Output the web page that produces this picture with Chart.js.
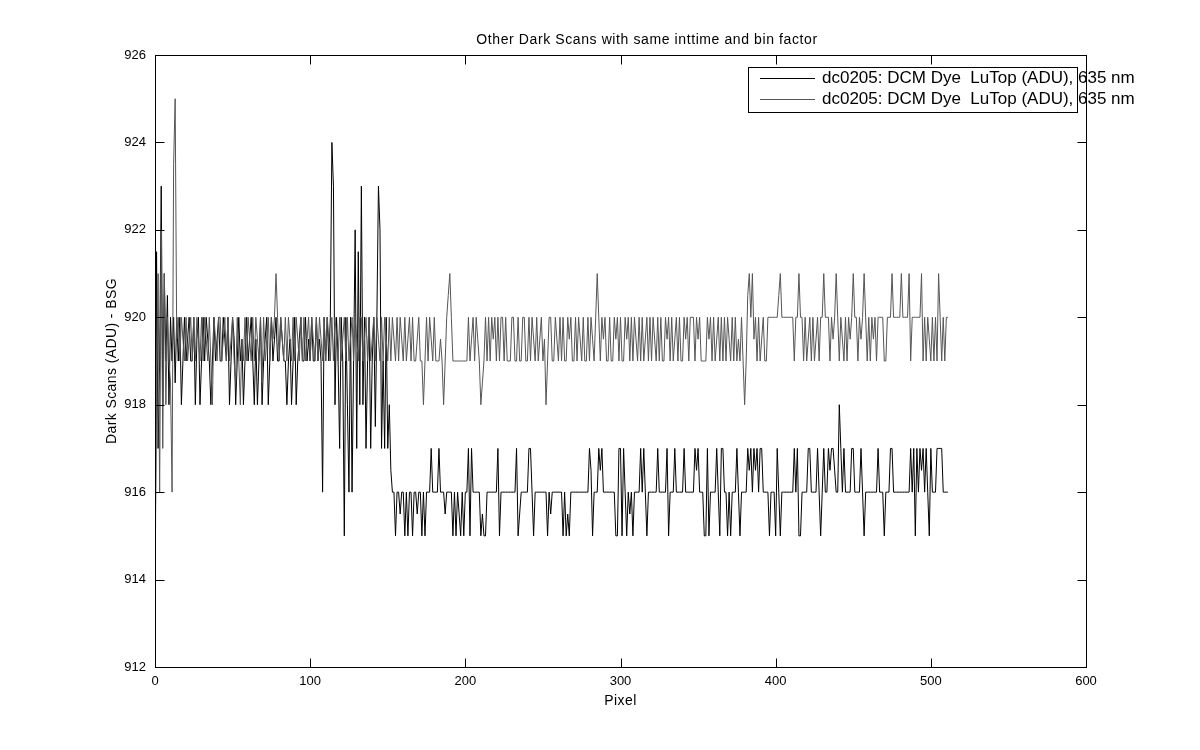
<!DOCTYPE html>
<html>
<head>
<meta charset="utf-8">
<title>Other Dark Scans</title>
<script src="https://cdn.jsdelivr.net/npm/chart.js@4.4.0/dist/chart.umd.min.js"></script>
<style>
    body { margin: 0; background: #fff; }
    canvas { display: block; }
</style>
</head>
<body>
<canvas id="darkChart" width="1200" height="750"></canvas>
<script>
// Data (ADU per pixel, 512 pixels)
const seriesLabel = 'dc0205: DCM Dye  LuTop (ADU), 635 nm';

const scanA = [
    912, 921.5, 917, 919, 923, 918, 921, 919, 920.5, 918, 920, 919, 920, 918.5, 920, 919,
    920, 918, 919, 920, 919, 919.5, 920, 919, 919, 920, 918, 919.5, 920, 918, 919, 920,
    919, 920, 919.5, 919, 918, 919, 920, 919, 919.5, 920, 919, 919, 920, 919.5, 919, 920,
    918, 919, 920, 919.5, 918, 919, 920, 919, 919.5, 918, 919, 920, 919, 919.5, 920, 919,
    918, 919.5, 918, 919, 920, 918, 919, 919.5, 920, 918, 919, 920, 919, 919.5, 920, 919,
    919, 920, 919.5, 919, 919, 918, 919, 919.5, 918, 919, 920, 918, 919, 919.5, 920, 919,
    919, 920, 919, 919.5, 919, 920, 919, 919, 920, 919, 919.5, 919, 916, 920, 919, 920,
    919, 920, 924, 923, 918, 920, 919, 917, 920, 919, 915, 920, 918, 916, 920, 916,
    919, 922, 917, 921.5, 918, 923, 918, 920, 917, 919, 920, 917, 919, 920, 917.5, 920,
    923, 922, 917, 919, 917, 920, 917, 918, 916.5, 916, 916, 915, 916, 916, 915.5, 916,
    916, 915, 916, 915, 916, 916, 915, 916, 916, 915.5, 916, 916, 915, 916, 915, 916,
    916, 916, 917, 916, 916, 916, 916, 917, 916, 916, 916, 915.5, 916, 916, 916, 916,
    915, 916, 915, 916, 915.5, 915, 916, 915, 916, 916, 917, 915, 917, 916, 916, 916,
    916, 916, 915, 915.5, 915, 915, 916, 916, 916, 916, 916, 916, 916, 917, 915, 916,
    916, 916, 916, 916, 916, 916, 916, 916, 916, 917, 915, 915.5, 916, 916, 916, 916,
    916, 917, 917, 916, 915, 916, 916, 916, 916, 916, 916, 916, 916, 915, 916, 915.5,
    916, 916, 916, 916, 916, 916, 916, 915, 916, 915, 915.5, 915, 916, 916, 916, 916,
    916, 916, 916, 916, 916, 916, 916, 916, 917, 916.5, 915, 916, 916, 916, 917, 916.5,
    917, 916, 916, 916, 916, 916, 916, 916, 916, 915, 915, 917, 917, 915, 917, 916,
    915, 916, 915.5, 916, 915, 916, 916, 916, 916, 917, 916, 917, 916, 915, 916, 916,
    916, 916, 916, 916, 917, 916, 916, 916, 916, 916, 917, 915, 916, 916, 916, 917,
    916, 916, 916, 916, 916, 917, 916, 916, 916, 916, 916, 916, 917, 916.5, 917, 916,
    916, 916, 915, 915, 917, 915, 916, 916, 916, 916, 917, 916, 915, 917, 917, 916,
    916, 915, 916, 915, 916, 916, 916, 917, 916, 915, 916, 916, 916, 916, 917, 916.5,
    917, 916, 917, 916.5, 917, 916, 917, 917, 916, 916, 916, 916, 915, 916, 916, 916,
    915, 917, 916, 915, 916, 916, 916, 916, 916, 916, 916, 916, 917, 916, 917, 915,
    915, 916, 916, 916, 916, 917, 917, 916, 916, 916, 916, 917, 916, 915, 916, 917,
    916, 916, 917, 916.5, 917, 917, 916.5, 916, 916, 918, 917, 916, 917, 916, 916, 916,
    916, 917, 917, 916, 916, 916, 916, 917, 916, 915, 916, 916, 916, 916, 916, 916,
    916, 916, 917, 916, 916, 916, 915, 916, 916, 916, 917, 917, 916, 916, 916, 916,
    916, 916, 916, 916, 916, 916, 916, 917, 916, 917, 915, 917, 916, 917, 916.5, 917,
    916, 917, 916, 915, 917, 916, 916, 916, 917, 917, 917, 917, 916, 916, 916, 916
];

const scanB = [
    914.5, 918, 921, 916, 922, 917, 921, 918, 920, 919, 918.5, 916, 923.5, 925, 919.5, 920,
    919, 920, 919.5, 919, 920, 919, 919.5, 920, 919, 920, 919, 920, 919.5, 919, 920, 919,
    920, 919.5, 919, 920, 919, 918, 920, 919.5, 919, 920, 920, 919, 919.5, 920, 919, 920,
    919, 919.5, 920, 919, 918.5, 920, 919, 918, 919.5, 919, 920, 919, 920, 919.5, 919, 920,
    919, 920, 919.5, 919, 920, 918.5, 920, 919, 919.5, 920, 919, 920, 919.5, 920, 921, 920,
    919, 920, 919.5, 919, 920, 919, 920, 919.5, 919, 920, 919, 920, 919.5, 919, 920, 919,
    920, 919, 919.5, 920, 919, 920, 919.5, 919, 920, 919, 920, 919.5, 919, 920, 919, 920,
    919.5, 919, 920, 919, 920, 919.5, 919, 920, 919, 919.5, 920, 919, 920, 919, 919.5, 920,
    919, 920, 919.5, 919, 920, 920, 919, 919.5, 920, 919, 920, 919, 919.5, 920, 919, 920,
    919.5, 919, 920, 919, 920, 919.5, 919, 920, 919, 920, 919.5, 919, 920, 919, 920, 919.5,
    919, 920, 919, 919.5, 920, 919, 920, 919, 919, 919.5, 920, 919, 919, 918, 919, 920,
    919, 920, 919.5, 919, 920, 919, 919, 919, 919.5, 919, 918, 919, 920, 920.5, 921, 920,
    919, 919, 919, 919, 919, 919, 919, 919, 919, 919, 920, 919, 919.5, 920, 919, 920,
    919.5, 919, 918, 918.5, 919, 920, 919, 920, 919, 920, 919.5, 920, 919, 920, 919, 920,
    920, 919, 920, 919, 919, 919, 920, 920, 919, 919, 920, 919, 919, 920, 920, 919,
    919, 920, 919, 920, 919.5, 919, 920, 919, 919.5, 920, 919, 919.5, 918, 919, 920, 920,
    919, 919, 920, 919.5, 919, 920, 919, 920, 919, 919, 920, 919.5, 920, 919, 919, 920,
    919, 920, 919.5, 919, 920, 919, 919, 920, 919, 920, 919.5, 919, 920, 921, 920, 919,
    920, 919.5, 920, 919, 919, 920, 919, 919, 920, 919.5, 920, 919, 920, 919, 919, 920,
    919.5, 920, 919, 920, 919, 920, 919.5, 919, 920, 919, 920, 919, 919.5, 920, 919, 920,
    919, 920, 919.5, 919, 920, 919, 920, 919, 919, 920, 919.5, 920, 919, 920, 919, 919.5,
    920, 919, 920, 919, 919, 920, 919.5, 920, 919, 920, 920, 920, 919, 920, 919.5, 920,
    919, 919, 919, 919, 920, 919.5, 920, 919, 920, 919, 919.5, 920, 919, 920, 919, 920,
    919, 920, 919.5, 919, 920, 919, 920, 919, 919.5, 919, 920, 919, 918, 919, 920.5, 921,
    920, 921, 919.5, 920, 919, 920, 919, 919.5, 920, 919, 919, 920, 920, 920, 920, 920,
    920, 920, 920.5, 921, 920, 920, 920, 920, 920, 920, 920, 920, 919, 920, 920, 921,
    920, 920, 919, 920, 919, 919.5, 920, 919, 920, 919, 919.5, 920, 919, 920, 920, 921,
    920, 920, 920, 919, 920, 919.5, 920, 921, 920, 919, 920, 919.5, 919, 920, 919, 920,
    919.5, 920, 921, 920, 920, 919, 920, 919.5, 920, 921, 920, 919, 920, 919, 920, 919.5,
    920, 919, 920, 920, 920, 920, 919, 919, 920, 920, 920, 921, 920, 920, 920, 920,
    920, 921, 920, 920, 920, 920, 921, 919, 920, 920, 920, 920, 920, 920, 921, 919,
    920, 919, 920, 919.5, 919, 920, 919, 920, 919, 921, 920, 919, 920, 919, 920, 920
];

const xTicks = [0, 100, 200, 300, 400, 500, 600];
const yTicks = [912, 914, 916, 918, 920, 922, 924, 926];

const chartTitle = 'Other Dark Scans with same inttime and bin factor';
const xTitle = 'Pixel';
const yTitle = 'Dark Scans (ADU) - BSG';

const FONT = '"Liberation Sans", Arial, Helvetica, sans-serif';
const TICK_LEN = 9;

function toPoints(values) {
    return values.map((v, i) => ({ x: i, y: v }));
}

// MATLAB-ish box, inward ticks, titles and legend
const matlabAxes = {
    id: 'matlabAxes',
    afterDraw(chart) {
        const ctx = chart.ctx;
        const area = chart.chartArea;
        const xs = chart.scales.x;
        const ys = chart.scales.y;
        const l = Math.round(area.left) + 0.5;
        const r = Math.round(area.right) + 0.5;
        const t = Math.round(area.top) + 0.5;
        const b = Math.round(area.bottom) + 0.5;

        ctx.save();
        ctx.strokeStyle = '#000';
        ctx.lineWidth = 1;
        ctx.strokeRect(l, t, r - l, b - t);

        ctx.beginPath();
        xTicks.forEach(v => {
            const px = Math.round(xs.getPixelForValue(v)) + 0.5;
            ctx.moveTo(px, b); ctx.lineTo(px, b - TICK_LEN);
            ctx.moveTo(px, t); ctx.lineTo(px, t + TICK_LEN);
        });
        yTicks.forEach(v => {
            const py = Math.round(ys.getPixelForValue(v)) + 0.5;
            ctx.moveTo(l, py); ctx.lineTo(l + TICK_LEN, py);
            ctx.moveTo(r, py); ctx.lineTo(r - TICK_LEN, py);
        });
        ctx.stroke();

        // titles
        ctx.fillStyle = '#000';
        ctx.font = '14px ' + FONT;
        ctx.letterSpacing = '0.6px';
        ctx.textAlign = 'center';
        ctx.textBaseline = 'middle';
        const cx = (area.left + area.right) / 2;
        ctx.fillText(chartTitle, 647, 40);
        ctx.letterSpacing = '0.4px';
        ctx.fillText(xTitle, cx, 701);
        ctx.save();
        ctx.translate(112, (area.top + area.bottom) / 2);
        ctx.rotate(-Math.PI / 2);
        ctx.fillText(yTitle, 0, 0);
        ctx.restore();

        // legend (text runs past the box, as in the original)
        const box = { x: 748.5, y: 67.5, w: 329, h: 45 };
        ctx.fillStyle = '#fff';
        ctx.fillRect(box.x, box.y, box.w, box.h);
        ctx.textAlign = 'left';
        ctx.letterSpacing = '0px';
        ctx.font = '17px ' + FONT;
        chart.data.datasets.forEach((ds, i) => {
            const y = Math.round(78 + i * 21) + 0.5;
            ctx.strokeStyle = ds.borderColor;
            ctx.beginPath();
            ctx.moveTo(760, y);
            ctx.lineTo(815, y);
            ctx.stroke();
            ctx.fillStyle = '#000';
            ctx.fillText(ds.label, 822, y);
        });
        ctx.strokeStyle = '#000';
        ctx.strokeRect(box.x, box.y, box.w, box.h);
        ctx.restore();
    }
};

const ctx = document.getElementById('darkChart').getContext('2d');

const darkChart = new Chart(ctx, {
    type: 'line',
    data: {
        datasets: [
            {
                label: seriesLabel,
                data: toPoints(scanA),
                borderColor: '#000000',
                borderWidth: 1,
                pointRadius: 0,
                tension: 0,
                order: 2
            },
            {
                label: seriesLabel,
                data: toPoints(scanB),
                borderColor: '#555555',
                borderWidth: 1,
                pointRadius: 0,
                tension: 0,
                order: 1
            }
        ]
    },
    options: {
        responsive: false,
        animation: false,
        devicePixelRatio: 1,
        layout: {
            padding: { left: 0, right: 114, top: 55, bottom: 0 }
        },
        scales: {
            x: {
                type: 'linear',
                min: 0,
                max: 600,
                afterBuildTicks: s => { s.ticks = xTicks.map(v => ({ value: v })); },
                afterFit: s => { s.height = 83; },
                grid: { display: false, drawTicks: false },
                border: { display: false },
                ticks: {
                    color: '#000',
                    padding: 7,
                    maxRotation: 0,
                    font: { family: FONT, size: 13 }
                }
            },
            y: {
                type: 'linear',
                min: 912,
                max: 926,
                afterBuildTicks: s => { s.ticks = yTicks.map(v => ({ value: v })); },
                afterFit: s => { s.width = 155; },
                grid: { display: false, drawTicks: false },
                border: { display: false },
                ticks: {
                    color: '#000',
                    padding: 9,
                    font: { family: FONT, size: 13 }
                }
            }
        },
        plugins: {
            legend: { display: false },
            tooltip: { enabled: false },
            title: { display: false }
        }
    },
    plugins: [matlabAxes]
});
</script>
</body>
</html>
